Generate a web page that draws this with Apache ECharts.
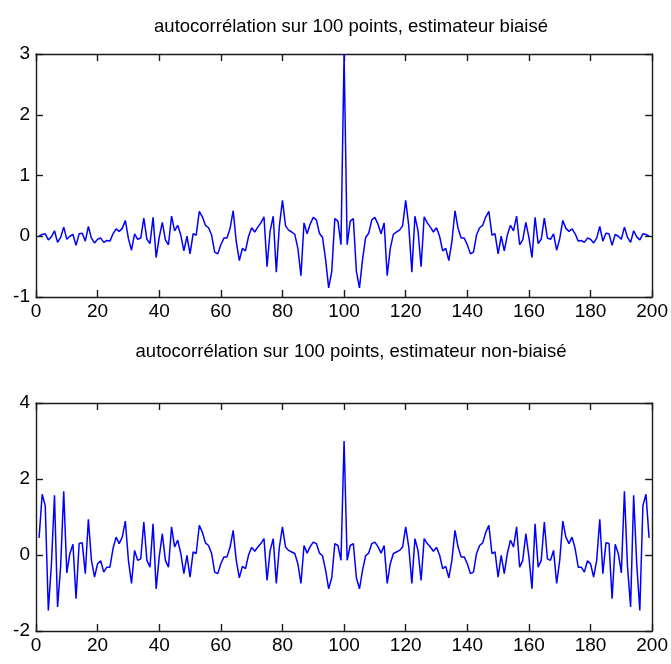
<!DOCTYPE html>
<html>
<head>
<meta charset="utf-8">
<script src="https://cdn.jsdelivr.net/npm/echarts@6/dist/echarts.min.js"></script>
<style>
html,body{margin:0;padding:0;background:#fff;}
#chart{width:671px;height:664px;}
</style>
</head>
<body>
<div id="chart"></div>
<script>
// lag index (1..199), centre = 100
const lags = Array.from({length: 199}, (_, i) => i + 1);

// biased estimator (top panel)
const biased = [
  0.00, 0.03, 0.04, -0.06, -0.01, 0.09, -0.10, -0.02, 0.15, -0.05,
  0.00, 0.03, -0.15, 0.04, 0.05, -0.08, 0.16, -0.03, -0.11, -0.05,
  -0.03, -0.10, -0.07, -0.08, 0.04, 0.12, 0.08, 0.13, 0.26, -0.04,
  -0.23, 0.04, -0.05, -0.03, 0.30, -0.05, -0.12, 0.31, -0.35, -0.02,
  0.23, -0.06, -0.14, 0.33, 0.09, 0.18, 0.02, -0.24, 0.00, -0.29,
  0.04, 0.02, 0.41, 0.32, 0.18, 0.14, 0.02, -0.26, -0.29, -0.14,
  -0.03, -0.03, 0.13, 0.42, -0.09, -0.40, -0.20, -0.24, 0.00, 0.14,
  0.07, 0.15, 0.22, 0.32, -0.50, 0.09, 0.33, -0.59, 0.17, 0.59,
  0.17, 0.10, 0.07, 0.03, -0.20, -0.65, 0.22, 0.04, 0.20, 0.31,
  0.27, 0.05, -0.02, -0.38, -0.85, -0.58, 0.29, 0.25, -0.14, 3.00,
  -0.14, 0.25, 0.29, -0.58, -0.85, -0.38, -0.02, 0.05, 0.27, 0.31,
  0.20, 0.04, 0.22, -0.65, -0.20, 0.03, 0.07, 0.10, 0.17, 0.59,
  0.17, -0.59, 0.33, 0.09, -0.50, 0.32, 0.22, 0.15, 0.07, 0.14,
  0.00, -0.24, -0.20, -0.40, -0.09, 0.42, 0.13, -0.03, -0.03, -0.14,
  -0.29, -0.26, 0.02, 0.14, 0.18, 0.32, 0.41, 0.02, 0.04, -0.29,
  0.00, -0.24, 0.02, 0.18, 0.09, 0.33, -0.14, -0.06, 0.23, -0.02,
  -0.35, 0.31, -0.12, -0.05, 0.30, -0.03, -0.05, 0.04, -0.23, -0.04,
  0.26, 0.13, 0.08, 0.12, 0.04, -0.08, -0.07, -0.10, -0.03, -0.05,
  -0.11, -0.03, 0.16, -0.08, 0.05, 0.04, -0.15, 0.03, 0.00, -0.05,
  0.15, -0.02, -0.10, 0.09, -0.01, -0.06, 0.04, 0.03, 0.00
];

// unbiased estimator (bottom panel)
const unbiased = [
  0.45, 1.60, 1.30, -1.46, -0.25, 1.57, -1.37, -0.30, 1.68, -0.47,
  0.04, 0.28, -1.15, 0.30, 0.32, -0.49, 0.94, -0.14, -0.58, -0.23,
  -0.15, -0.45, -0.32, -0.32, 0.17, 0.47, 0.30, 0.47, 0.89, -0.14,
  -0.75, 0.12, -0.14, -0.10, 0.87, -0.14, -0.32, 0.82, -0.89, -0.05,
  0.56, -0.14, -0.32, 0.74, 0.21, 0.39, 0.04, -0.49, -0.01, -0.58,
  0.08, 0.04, 0.78, 0.60, 0.32, 0.25, 0.04, -0.45, -0.49, -0.23,
  -0.05, -0.05, 0.21, 0.65, -0.14, -0.60, -0.30, -0.36, 0.00, 0.20,
  0.10, 0.21, 0.30, 0.43, -0.67, 0.12, 0.43, -0.75, 0.21, 0.74,
  0.21, 0.12, 0.08, 0.04, -0.23, -0.75, 0.25, 0.05, 0.22, 0.34,
  0.30, 0.05, -0.02, -0.40, -0.89, -0.60, 0.30, 0.25, -0.14, 3.00,
  -0.14, 0.25, 0.30, -0.60, -0.89, -0.40, -0.02, 0.05, 0.30, 0.34,
  0.22, 0.05, 0.25, -0.75, -0.23, 0.04, 0.08, 0.12, 0.21, 0.74,
  0.21, -0.75, 0.43, 0.12, -0.67, 0.43, 0.30, 0.21, 0.10, 0.20,
  0.00, -0.36, -0.30, -0.60, -0.14, 0.65, 0.21, -0.05, -0.05, -0.23,
  -0.49, -0.45, 0.04, 0.25, 0.32, 0.60, 0.78, 0.04, 0.08, -0.58,
  -0.01, -0.49, 0.04, 0.39, 0.21, 0.74, -0.32, -0.14, 0.56, -0.05,
  -0.89, 0.82, -0.32, -0.14, 0.87, -0.10, -0.14, 0.12, -0.75, -0.14,
  0.89, 0.47, 0.30, 0.47, 0.17, -0.32, -0.32, -0.45, -0.15, -0.23,
  -0.58, -0.14, 0.94, -0.49, 0.32, 0.30, -1.15, 0.28, 0.04, -0.47,
  1.68, -0.30, -1.37, 1.57, -0.25, -1.46, 1.30, 1.60, 0.45
];

const titles = [
  'autocorrélation sur 100 points, estimateur biaisé',
  'autocorrélation sur 100 points, estimateur non-biaisé'
];
const xTicks = {min: 0, max: 200, interval: 20};
const yTop = {min: -1, max: 3, interval: 1};
const yBottom = {min: -2, max: 4, interval: 2};

const FONT = '"Liberation Sans Narrow", "Liberation Sans", Arial, sans-serif';
const axisColor = '#1a1a1a';

function xAxisDef(gridIndex, position, showLabels) {
  return {
    type: 'value', gridIndex, position,
    min: xTicks.min, max: xTicks.max, interval: xTicks.interval,
    axisLine: {show: true, onZero: false, lineStyle: {color: axisColor, width: 1.4}},
    axisTick: {show: true, inside: true, length: 7, lineStyle: {color: axisColor, width: 1.4}},
    axisLabel: {show: showLabels, margin: 5, color: '#000', fontFamily: FONT, fontSize: 19},
    splitLine: {show: false}
  };
}
function yAxisDef(gridIndex, position, range, showLabels) {
  return {
    type: 'value', gridIndex, position,
    min: range.min, max: range.max, interval: range.interval,
    axisLine: {show: true, onZero: false, lineStyle: {color: axisColor, width: 1.4}},
    axisTick: {show: true, inside: true, length: 7, lineStyle: {color: axisColor, width: 1.4}},
    axisLabel: {show: showLabels, margin: 6, color: '#000', fontFamily: FONT, fontSize: 19},
    splitLine: {show: false}
  };
}

const chart = echarts.init(document.getElementById('chart'), null, {renderer: 'canvas'});
chart.setOption({
  animation: false,
  backgroundColor: '#ffffff',
  title: [
    {text: titles[0], left: 346, top: 12, textAlign: 'center',
     textStyle: {fontFamily: FONT, fontSize: 18.5, fontWeight: 'normal', color: '#000'}},
    {text: titles[1], left: 346, top: 337, textAlign: 'center',
     textStyle: {fontFamily: FONT, fontSize: 18.5, fontWeight: 'normal', color: '#000'}}
  ],
  grid: [
    {left: 36, top: 54, width: 620, height: 243},
    {left: 36, top: 403, width: 620, height: 228}
  ],
  xAxis: [
    xAxisDef(0, 'bottom', true), xAxisDef(0, 'top', false),
    xAxisDef(1, 'bottom', true), xAxisDef(1, 'top', false)
  ],
  yAxis: [
    yAxisDef(0, 'left', yTop, true), yAxisDef(0, 'right', yTop, false),
    yAxisDef(1, 'left', yBottom, true), yAxisDef(1, 'right', yBottom, false)
  ],
  series: [
    {type: 'line', xAxisIndex: 0, yAxisIndex: 0, showSymbol: false, symbol: 'none',
     data: lags.map((k, i) => [k, biased[i]]),
     lineStyle: {color: '#0000ff', width: 1.5}, clip: true},
    {type: 'line', xAxisIndex: 2, yAxisIndex: 2, showSymbol: false, symbol: 'none',
     data: lags.map((k, i) => [k, unbiased[i]]),
     lineStyle: {color: '#0000ff', width: 1.5}, clip: true}
  ]
});
</script>
</body>
</html>
